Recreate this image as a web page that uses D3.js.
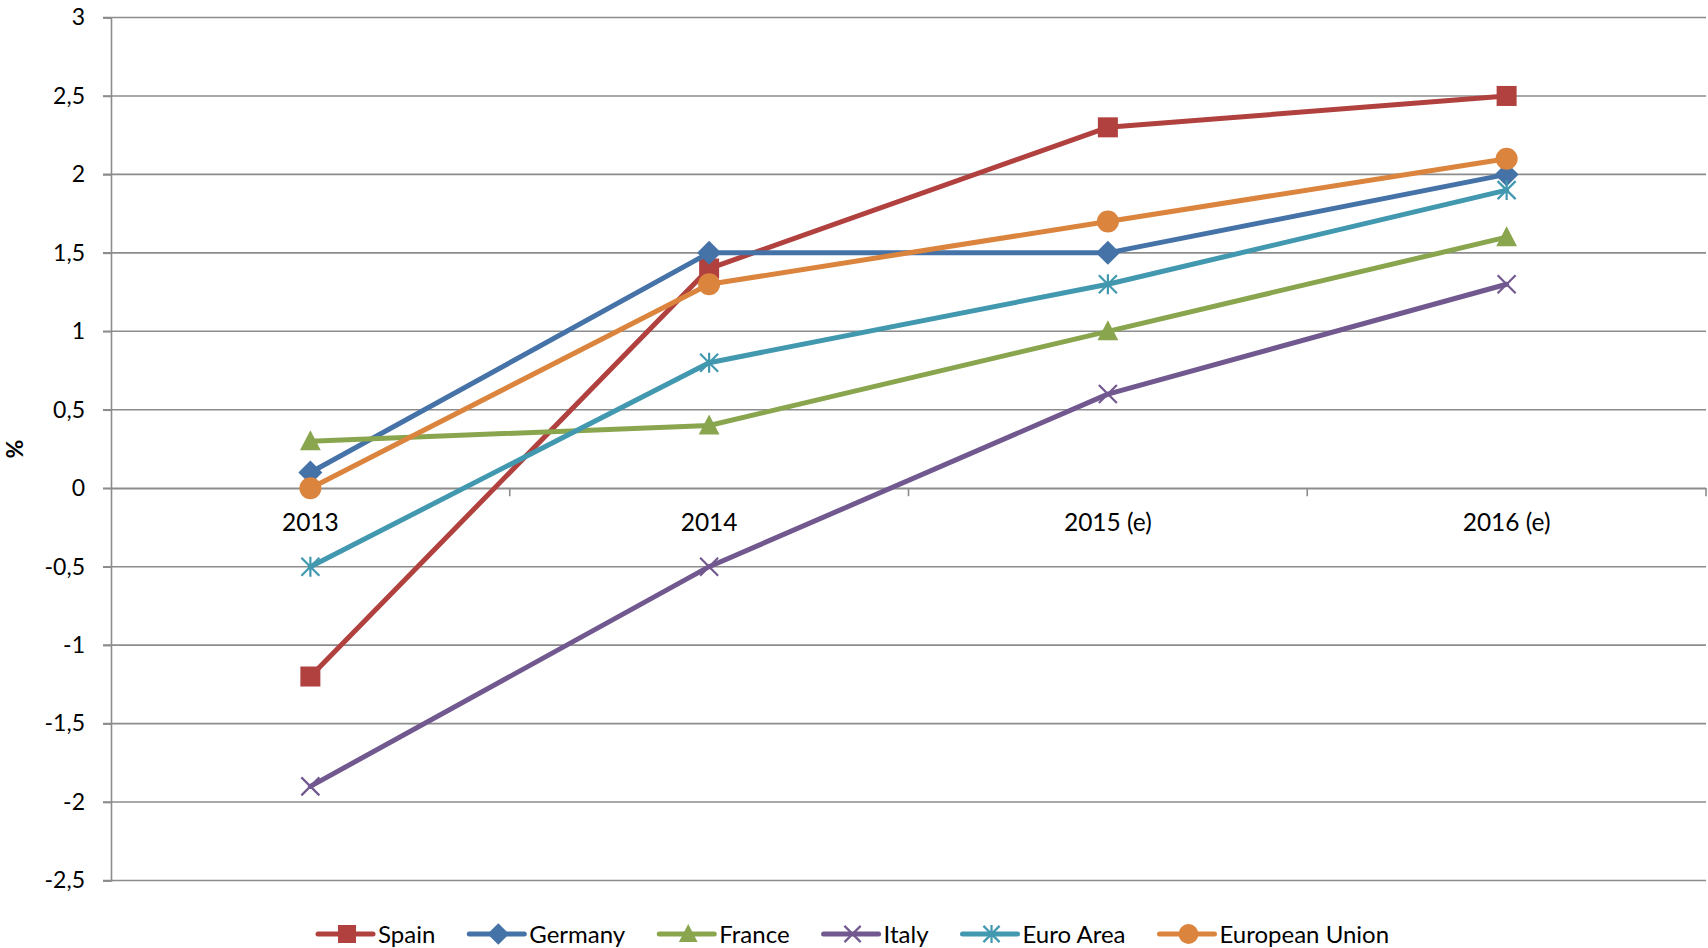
<html>
  <head>
    <script src="https://d3js.org/d3.v7.min.js"></script>
    <style>
      body { margin: 0; background: #fff; }
      text { font-family: Lato, "Open Sans", sans-serif; fill: #000; }
    </style>
  </head>
  <body>
    <svg id="chart" width="1708" height="948"></svg>
    <script>
// categories and series
var years = ["2013", "2014", "2015 (e)", "2016 (e)"];
var seriesNames = ["Spain", "Germany", "France", "Italy", "Euro Area", "European Union"];
var spain   = [-1.2, 1.4, 2.3, 2.5];
var germany = [0.1, 1.5, 1.5, 2.0];
var france  = [0.3, 0.4, 1.0, 1.6];
var italy   = [-1.9, -0.5, 0.6, 1.3];
var euroArea = [-0.5, 0.8, 1.3, 1.9];
var eu      = [0.0, 1.3, 1.7, 2.1];
var yTicks = [-2.5, -2, -1.5, -1, -0.5, 0, 0.5, 1, 1.5, 2, 2.5, 3];

var colors = ["#B0413E", "#4572A7", "#89A54E", "#71588F", "#4198AF", "#DB843D"];
var shapes = ["square", "diamond", "triangle", "x", "star", "circle"];
var allValues = [spain, germany, france, italy, euroArea, eu];

var margin = {left: 111, right: 2, top: 17.5, bottom: 67.5};
var width = 1708 - margin.left - margin.right,
    height = 948 - margin.top - margin.bottom;

var svg = d3.select("#chart").append("g")
  .attr("transform", "translate(" + margin.left + "," + margin.top + ")");

var x = d3.scaleBand().domain(years).range([0, width]);
var y = d3.scaleLinear().domain([-2.5, 3]).range([height, 0]);

var fmt = function(d) { return String(d).replace(".", ","); };

// gridlines
svg.append("g").selectAll("line").data(yTicks).enter().append("line")
  .attr("x1", -8).attr("x2", width)
  .attr("y1", function(d) { return y(d); }).attr("y2", function(d) { return y(d); })
  .style("stroke", "#8c8c8c").style("stroke-width", 1.6);

// y axis
var yAxis = svg.append("g")
  .call(d3.axisLeft(y).tickValues(yTicks).tickFormat(fmt).tickSize(8).tickPadding(18));
yAxis.select(".domain").style("stroke", "#8c8c8c").style("stroke-width", 1.6);
yAxis.selectAll(".tick line").style("stroke", "#8c8c8c").style("stroke-width", 1.6);
yAxis.selectAll("text").style("font-size", "23px").style("font-family", "Lato");

// x axis at zero
var xAxis = svg.append("g")
  .attr("transform", "translate(0," + y(0) + ")")
  .call(d3.axisBottom(x).tickSize(0).tickPadding(25));
xAxis.select(".domain").style("stroke", "#8c8c8c").style("stroke-width", 1.6);
xAxis.selectAll("text").style("font-size", "24.5px").style("font-family", "Lato");
// category separator ticks
var seps = years.map(function(d) { return x(d) + x.bandwidth(); });
svg.append("g").selectAll("line").data(seps).enter().append("line")
  .attr("x1", function(d) { return d; }).attr("x2", function(d) { return d; })
  .attr("y1", y(0)).attr("y2", y(0) + 8)
  .style("stroke", "#8c8c8c").style("stroke-width", 1.6);

// y axis label
svg.append("text")
  .attr("transform", "translate(" + (-88) + "," + y(0.25) + ") rotate(-90)")
  .style("text-anchor", "middle")
  .style("font-size", "23px").style("font-weight", "bold")
  .text("%");

function drawMarker(g, shape, color, size) {
  var s = size;
  if (shape == "square") {
    g.append("rect").attr("x", -s / 2).attr("y", -s / 2).attr("width", s).attr("height", s).style("fill", color);
  } else if (shape == "diamond") {
    g.append("path").attr("d", "M0," + (-s * 0.6) + "L" + (s * 0.6) + ",0L0," + (s * 0.6) + "L" + (-s * 0.6) + ",0Z").style("fill", color);
  } else if (shape == "triangle") {
    g.append("path").attr("d", "M0," + (-s * 0.55) + "L" + (s * 0.52) + "," + (s * 0.45) + "L" + (-s * 0.52) + "," + (s * 0.45) + "Z").style("fill", color);
  } else if (shape == "circle") {
    g.append("circle").attr("r", s * 0.55).style("fill", color);
  } else if (shape == "x") {
    var h = s * 0.45;
    g.append("path").attr("d", "M" + (-h) + "," + (-h) + "L" + h + "," + h + "M" + h + "," + (-h) + "L" + (-h) + "," + h)
      .style("stroke", color).style("stroke-width", 2.2).style("fill", "none");
  } else if (shape == "star") {
    var h = s * 0.45;
    g.append("path").attr("d", "M" + (-h) + "," + (-h) + "L" + h + "," + h + "M" + h + "," + (-h) + "L" + (-h) + "," + h + "M0," + (-s * 0.5) + "L0," + (s * 0.5))
      .style("stroke", color).style("stroke-width", 2.2).style("fill", "none");
  }
}

var line = d3.line()
  .x(function(d, i) { return x(years[i]) + x.bandwidth() / 2; })
  .y(function(d) { return y(d); });

allValues.forEach(function(vals, k) {
  svg.append("path").datum(vals)
    .attr("d", line)
    .style("fill", "none")
    .style("stroke", colors[k])
    .style("stroke-width", 5)
    .style("stroke-linejoin", "round")
    .style("stroke-linecap", "round");
  vals.forEach(function(v, i) {
    var g = svg.append("g").attr("transform", "translate(" + (x(years[i]) + x.bandwidth() / 2) + "," + y(v) + ")");
    drawMarker(g, shapes[k], colors[k], 20);
  });
});

// legend
var legend = d3.select("#chart").append("g").attr("transform", "translate(0,934)");
var cursor = 318;
seriesNames.forEach(function(name, k) {
  var item = legend.append("g");
  item.append("line").attr("x1", cursor).attr("x2", cursor + 55).attr("y1", 0).attr("y2", 0)
    .style("stroke", colors[k]).style("stroke-width", 5).style("stroke-linecap", "round");
  var mg = item.append("g").attr("transform", "translate(" + (cursor + 29) + ",0)");
  drawMarker(mg, shapes[k], colors[k], 18);
  var t = item.append("text").attr("x", cursor + 60).attr("y", 8.5)
    .style("font-size", "24px").text(name);
  cursor = cursor + 60 + t.node().getComputedTextLength() + 34;
});
    </script>
  </body>
</html>
